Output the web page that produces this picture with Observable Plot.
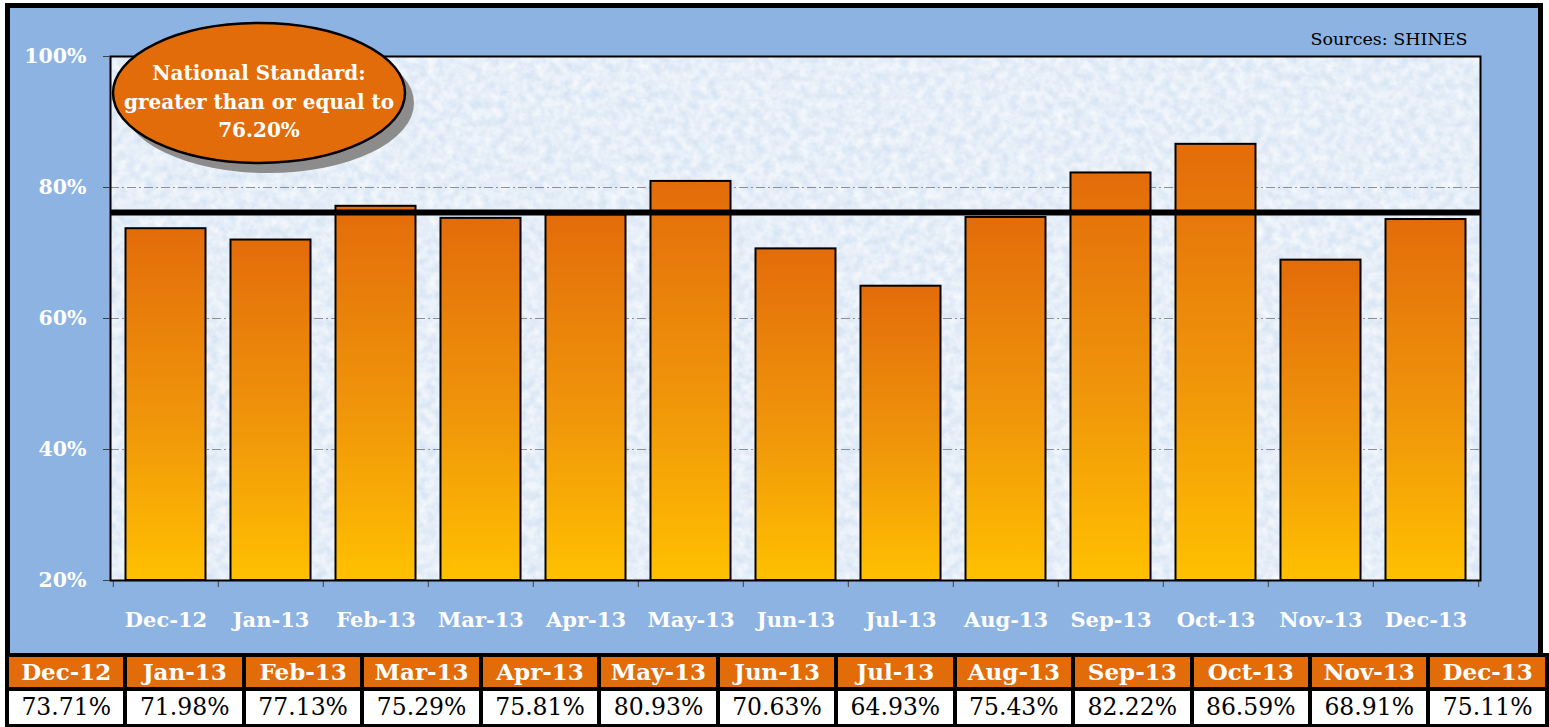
<!DOCTYPE html>
<html>
<head>
<meta charset="utf-8">
<script src="https://cdn.jsdelivr.net/npm/d3@7"></script>
<script src="https://cdn.jsdelivr.net/npm/@observablehq/plot@0.6"></script>
<style>
  html, body { margin: 0; padding: 0; background: #ffffff; overflow: hidden; }
  #wrap { position: relative; width: 1549px; height: 727px; overflow: hidden; font-family: 'DejaVu Serif', serif; }
  #frame { position: absolute; left: 5px; top: 3px; width: 1538px; height: 652px; background: #8DB3E2; border: 5px solid #000; border-bottom: none; box-sizing: border-box; }
  #chart { position: absolute; left: 0; top: 0; }
  #tbl { position: absolute; left: 5px; top: 653px; width: 1540px; border-collapse: collapse; table-layout: fixed; }
  #tbl td { border: 4px solid #000; text-align: center; padding: 0; white-space: nowrap; overflow: hidden; font-family: 'DejaVu Serif', serif; }
  #tbl tr.head td { background: #E36C0A; color: #fff; font-weight: bold; font-size: 23px; height: 30px; line-height: 30px; }
  #tbl tr.vals td { background: #fff; color: #000; font-size: 23.5px; height: 33px; line-height: 33px; }
</style>
</head>
<body>
<div id="wrap">
  <div id="frame"></div>
  <div id="chart"></div>
  <table id="tbl"><tbody></tbody></table>
</div>
<script>
// ---- data ----
const months = ["Dec-12","Jan-13","Feb-13","Mar-13","Apr-13","May-13","Jun-13","Jul-13","Aug-13","Sep-13","Oct-13","Nov-13","Dec-13"];
const values = [73.71, 71.98, 77.13, 75.29, 75.81, 80.93, 70.63, 64.93, 75.43, 82.22, 86.59, 68.91, 75.11];
const yTicks = [20, 40, 60, 80, 100];
const gridValues = [40, 60, 80];
const nationalStandard = 76.2;
const yDomain = [20, 100];
const sourceText = "Sources: SHINES";
const standardLines = ["National Standard:", "greater than or equal to", "76.20%"];

const data = months.map((m, i) => ({month: m, value: values[i]}));

// ---- layout ----
const W = 1549, H = 653;
const mL = 110, mR = 69, mT = 56, mB = 73;
const step = (W - mL - mR) / months.length;
const serif = "'DejaVu Serif', serif";

function backgroundMark(index, scales, vals, dims) {
  const g = d3.create("svg:g");
  const defs = g.append("defs");
  const grad = defs.append("linearGradient").attr("id", "barGrad")
    .attr("x1", 0).attr("y1", 0).attr("x2", 0).attr("y2", 1);
  grad.append("stop").attr("offset", "0%").attr("stop-color", "#E36C0A");
  grad.append("stop").attr("offset", "55%").attr("stop-color", "#F0960A");
  grad.append("stop").attr("offset", "100%").attr("stop-color", "#FFC000");
  const f = defs.append("filter").attr("id", "tex").attr("x", 0).attr("y", 0).attr("width", "100%").attr("height", "100%");
  f.append("feTurbulence").attr("type", "fractalNoise").attr("baseFrequency", "0.11").attr("numOctaves", 3).attr("seed", 7).attr("result", "n");
  f.append("feColorMatrix").attr("in", "n").attr("type", "matrix")
    .attr("values", "0 0 0 0 1  0 0 0 0 1  0 0 0 0 1  1.1 0 0 0 -0.15");
  const x0 = dims.marginLeft, y0 = dims.marginTop;
  const w = dims.width - dims.marginLeft - dims.marginRight;
  const h = dims.height - dims.marginTop - dims.marginBottom;
  g.append("rect").attr("x", x0).attr("y", y0).attr("width", w).attr("height", h).attr("fill", "#d5e3f3");
  g.append("rect").attr("x", x0).attr("y", y0).attr("width", w).attr("height", h).attr("fill", "#fff").attr("filter", "url(#tex)");
  return g.node();
}

function ellipseMark(index, scales, vals, dims) {
  const g = d3.create("svg:g");
  const cx = 259, cy = 93, rx = 146, ry = 70;
  g.append("ellipse").attr("cx", cx + 9).attr("cy", cy + 10).attr("rx", rx).attr("ry", ry).attr("fill", "#8c8c8c");
  g.append("ellipse").attr("cx", cx).attr("cy", cy).attr("rx", rx).attr("ry", ry)
    .attr("fill", "#E36C0A").attr("stroke", "#000").attr("stroke-width", 2.5);
  const t = g.append("text").attr("text-anchor", "middle").attr("fill", "#fff")
    .style("font-family", serif).attr("font-weight", "bold").attr("font-size", 20);
  standardLines.forEach((s, i) => {
    t.append("tspan").attr("x", cx).attr("y", 80 + i * 28.5).text(s);
  });
  return g.node();
}

const chart = Plot.plot({
  width: W,
  height: H,
  marginLeft: mL,
  marginRight: mR,
  marginTop: mT,
  marginBottom: mB,
  style: {background: "transparent", fontFamily: serif, overflow: "visible"},
  x: {domain: months, padding: 0, label: null},
  y: {domain: yDomain, label: null},
  marks: [
    backgroundMark,
    Plot.ruleY(gridValues, {stroke: "#8a8f99", strokeWidth: 1, strokeDasharray: "9,3,2,3"}),
    Plot.barY(data, {x: "month", y1: yDomain[0], y2: "value", fill: "url(#barGrad)", stroke: "#000", strokeWidth: 2, insetLeft: 12.5, insetRight: 12.5}),
    Plot.ruleY([nationalStandard], {stroke: "#000", strokeWidth: 6}),
    Plot.ruleX(months, {x: d => d, dx: -step / 2, y1: yDomain[0], y2: yDomain[0] - 1.07, stroke: "#404040", strokeWidth: 1}),
    Plot.ruleX([months[months.length - 1]], {x: d => d, dx: step / 2, y1: yDomain[0], y2: yDomain[0] - 1.07, stroke: "#404040", strokeWidth: 1}),
    Plot.frame({stroke: "#000", strokeWidth: 2}),
    Plot.axisY({ticks: yTicks, tickFormat: d => d + "%", tickSize: 7, tickPadding: 17, fontSize: 20.5, fontWeight: "bold", fill: "#fff", stroke: "#404040"}),
    Plot.axisX({tickSize: 0, tickPadding: 32, fontSize: 21, fontWeight: "bold", fill: "#fff"}),
    Plot.text([sourceText], {text: d => d, frameAnchor: "top-right", dx: -13, dy: -17, textAnchor: "end", lineAnchor: "middle", fontSize: 17.5, fill: "#000"}),
    ellipseMark
  ]
});

d3.select(chart).selectAll('g[aria-label$="tick label"] text').attr("fill", "#fff").attr("font-weight", "bold");
document.getElementById("chart").appendChild(chart);

// ---- table ----
const tbody = d3.select("#tbl tbody");
const ncol = months.length;
tbody.append("tr").attr("class", "head").selectAll("td").data(months).join("td").text(d => d);
tbody.append("tr").attr("class", "vals").selectAll("td").data(values).join("td").text(d => d.toFixed(2) + "%");
d3.select("#tbl").insert("colgroup", "tbody").selectAll("col").data(months).join("col").style("width", (1540 / ncol) + "px");
</script>
</body>
</html>
